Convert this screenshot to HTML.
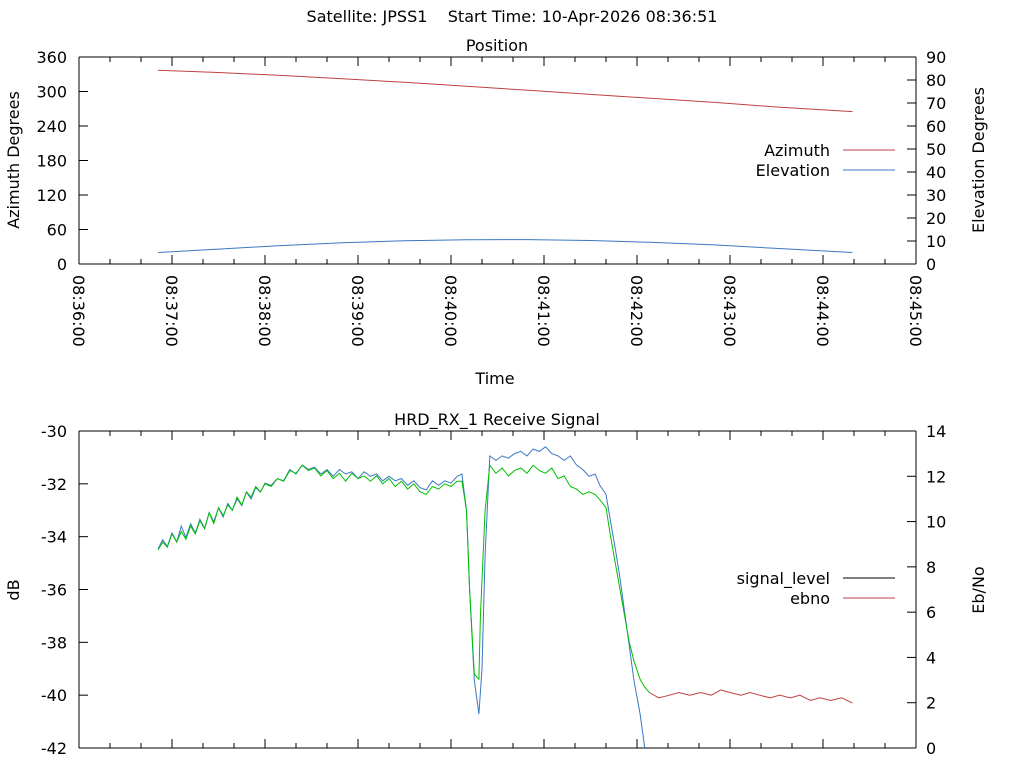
<!DOCTYPE html>
<html><head><meta charset="utf-8"><style>
html,body{margin:0;padding:0;background:#fff}
svg{display:block;font-family:"DejaVu Sans","Liberation Sans",sans-serif}
</style></head><body>
<svg id="s" width="1024" height="768" xmlns="http://www.w3.org/2000/svg"></svg>
<script>
// Position chart data (seconds after 08:36:00)
const posTimes=[51,90,130,170,210,250,290,330,370,410,450,499];
const azimuth=[337,333,328,322,316,309,302,295,288,281,273,265];
const elevTimes=[51,90,130,170,210,250,290,330,370,410,450,499];
const elevation=[5,6.5,8,9.2,10.1,10.5,10.6,10.2,9.4,8.3,6.8,5];
const xTickLabels=["08:36:00","08:37:00","08:38:00","08:39:00","08:40:00","08:41:00","08:42:00","08:43:00","08:44:00","08:45:00"];
const azTicks=[0,60,120,180,240,300,360];
const elTicks=[0,10,20,30,40,50,60,70,80,90];
// Receive signal data
const sigTimes=[51,54,57,60,63,66,69,72,75,78,81,84,87,90,93,96,99,102,105,108,111,114,117,120,124,128,132,136,140,144,148,152,156,160,164,168,172,176,180,184,188,192,196,200,204,208,212,216,220,224,228,232,236,240,244,247,250,252,255,258,259,262,265,269,273,277,281,285,289,293,297,301,305,309,313,317,321,325,329,333,336,340,343,346,349,352,355,358,362,365,368];
const sigLevel=[-34.5,-34.2,-34.4,-33.9,-34.2,-33.8,-34.1,-33.6,-33.9,-33.4,-33.7,-33.1,-33.5,-32.9,-33.2,-32.8,-33.0,-32.5,-32.8,-32.3,-32.5,-32.1,-32.3,-32.0,-32.1,-31.8,-31.9,-31.5,-31.6,-31.3,-31.5,-31.4,-31.7,-31.5,-31.8,-31.6,-31.9,-31.6,-31.8,-31.7,-31.9,-31.7,-32.0,-31.8,-32.1,-31.9,-32.2,-32.0,-32.3,-32.4,-32.1,-32.2,-32.0,-32.1,-31.9,-31.9,-33.0,-36.0,-39.2,-39.4,-37.0,-33.0,-31.3,-31.6,-31.4,-31.7,-31.5,-31.4,-31.6,-31.3,-31.5,-31.6,-31.4,-31.8,-31.7,-32.1,-32.2,-32.4,-32.3,-32.4,-32.6,-32.9,-34.0,-35.0,-36.0,-37.0,-38.0,-38.7,-39.4,-39.7,-39.9];
const tailTimes=[368,374,381,387,394,401,408,414,420,427,433,439,446,452,459,465,472,478,485,492,499];
const tailLevel=[-39.9,-40.1,-40.0,-39.9,-40.0,-39.9,-40.0,-39.8,-39.9,-40.0,-39.9,-40.0,-40.1,-40.0,-40.1,-40.0,-40.2,-40.1,-40.2,-40.1,-40.3];
const ebTimes=[51,54,57,60,63,66,69,72,75,78,81,84,87,90,93,96,99,102,105,108,111,114,117,120,124,128,132,136,140,144,148,152,156,160,164,168,172,176,180,184,188,192,196,200,204,208,212,216,220,224,228,232,236,240,244,247,250,252,255,258,260,262,265,269,273,277,281,285,289,293,297,301,305,309,313,317,321,325,329,333,336,340,343,346,349,352,355,358,362,365];
const ebno=[8.8,9.2,8.9,9.5,9.1,9.8,9.3,9.9,9.5,10.1,9.7,10.4,10.0,10.6,10.2,10.8,10.5,11.0,10.7,11.3,11.0,11.5,11.3,11.7,11.6,11.9,11.8,12.3,12.1,12.5,12.3,12.4,12.1,12.3,12.0,12.3,12.1,12.2,11.9,12.2,12.0,12.1,11.8,12.0,11.8,11.9,11.6,11.8,11.5,11.4,11.8,11.6,11.8,11.7,12.0,12.1,10.5,7.0,3.0,1.5,3.5,8.5,12.9,12.7,12.9,12.8,13.0,13.1,12.9,13.2,13.1,13.3,13.0,12.9,12.7,12.9,12.5,12.3,12.0,12.1,11.6,11.2,10.0,8.8,7.5,6.0,4.5,3.0,1.5,0];
const dbTicks=[-30,-32,-34,-36,-38,-40,-42];
const ebTicks=[0,2,4,6,8,10,12,14];

const NS="http://www.w3.org/2000/svg",S=document.getElementById('s');
function el(t,a,txt){const e=document.createElementNS(NS,t);for(const k in a)e.setAttribute(k,a[k]);if(txt!=null)e.textContent=txt;S.appendChild(e);return e;}
const L=79,R=916;
const X=t=>L+t*(R-L)/540;
const P1T=57,P1B=264,P2T=431,P2B=748;
const yAz=v=>P1B-v/360*(P1B-P1T), yEl=v=>P1B-v/90*(P1B-P1T);
const yDb=v=>P2T+(-30-v)/12*(P2B-P2T), yEb=v=>P2B-v/14*(P2B-P2T);
function line(x1,y1,x2,y2,c,n){const e=el('line',{x1,y1,x2,y2,stroke:c||'#000','stroke-width':1});

return e;}
function txt(x,y,s,anchor,n,extra){const e=el('text',Object.assign({x,y,'font-size':16,'text-anchor':anchor||'middle',fill:'#000'},extra||{}),s);

return e;}
function path(ts,vs,xf,yf,c,n){let d='';ts.forEach((t,i)=>{d+=(i?'L':'M')+xf(t).toFixed(1)+','+yf(vs[i]).toFixed(1);});
const e=el('path',{d,fill:'none',stroke:c,'stroke-width':1});

}

txt(512,22,'Satellite: JPSS1\u00a0\u00a0\u00a0\u00a0Start Time: 10-Apr-2026 08:36:51','middle','main-title',{'font-size':16});
// Plot 1
txt(497,51,'Position','middle','position-title');
function frame(T,B,n){line(L,T,L,B,'#000',n+'-left-axis');line(L,B,R,B,'#000',n+'-bottom-axis');line(R,T,R,B,'#000',n+'-right-axis');line(L,T,R,T,'#000',n+'-top-border');
for(let s=0;s<=540;s+=20){const x=X(s),len=(s%60==0)?9:5;line(x,B,x,B-len,'#000','x-tick');line(x,T,x,T+len,'#000','x-tick-top');}}
frame(P1T,P1B,'position');
azTicks.forEach(v=>{line(L,yAz(v),L+9,yAz(v),'#000','az-tick');txt(L-12,yAz(v)+6,String(v),'end','az-tick-label');});
elTicks.forEach(v=>{line(R,yEl(v),R-9,yEl(v),'#000','el-tick');txt(R+10,yEl(v)+6,String(v),'start','el-tick-label');});
xTickLabels.forEach((s,i)=>{const x=X(i*60);txt(0,0,s,'start','x-tick-label',{transform:`translate(${x-6},${P1B+11}) rotate(90)`});});
txt(0,0,'Azimuth Degrees','middle','y-axis-title-left',{transform:'translate(19,160) rotate(-90)'});
txt(0,0,'Elevation Degrees','middle','y-axis-title-right',{transform:'translate(984,160) rotate(-90)'});
txt(495,384,'Time','middle','x-axis-title');
path(posTimes,azimuth,X,yAz,'#c04040','azimuth-line');
path(elevTimes,elevation,X,yEl,'#3b78c2','elevation-line');
txt(830,156,'Azimuth','end','legend-azimuth-label');line(843,150,895,150,'#c04040','legend-azimuth-swatch');
txt(830,176,'Elevation','end','legend-elevation-label');line(843,170,895,170,'#3b78c2','legend-elevation-swatch');
// Plot 2
txt(497,425,'HRD_RX_1 Receive Signal','middle','signal-title');
frame(P2T,P2B,'signal');
dbTicks.forEach(v=>{line(L,yDb(v),L+9,yDb(v),'#000','db-tick');txt(L-12,yDb(v)+6,String(v),'end','db-tick-label');});
ebTicks.forEach(v=>{line(R,yEb(v),R-9,yEb(v),'#000','eb-tick');txt(R+10,yEb(v)+6,String(v),'start','eb-tick-label');});
txt(0,0,'dB','middle','y-axis-title-db',{transform:'translate(19,590) rotate(-90)'});
txt(0,0,'Eb/No','middle','y-axis-title-ebno',{transform:'translate(984,590) rotate(-90)'});
path(tailTimes,tailLevel,X,yDb,'#c04040','signal-tail-line');
path(ebTimes,ebno,X,yEb,'#3b78c2','ebno-line');
path(sigTimes,sigLevel,X,yDb,'#00c000','signal-level-line');
txt(830,584,'signal_level','end','legend-signal-label');line(843,578,895,578,'#000','legend-signal-swatch');
txt(830,604,'ebno','end','legend-ebno-label');line(843,598,895,598,'#c04040','legend-ebno-swatch');
</script>
</body></html>
